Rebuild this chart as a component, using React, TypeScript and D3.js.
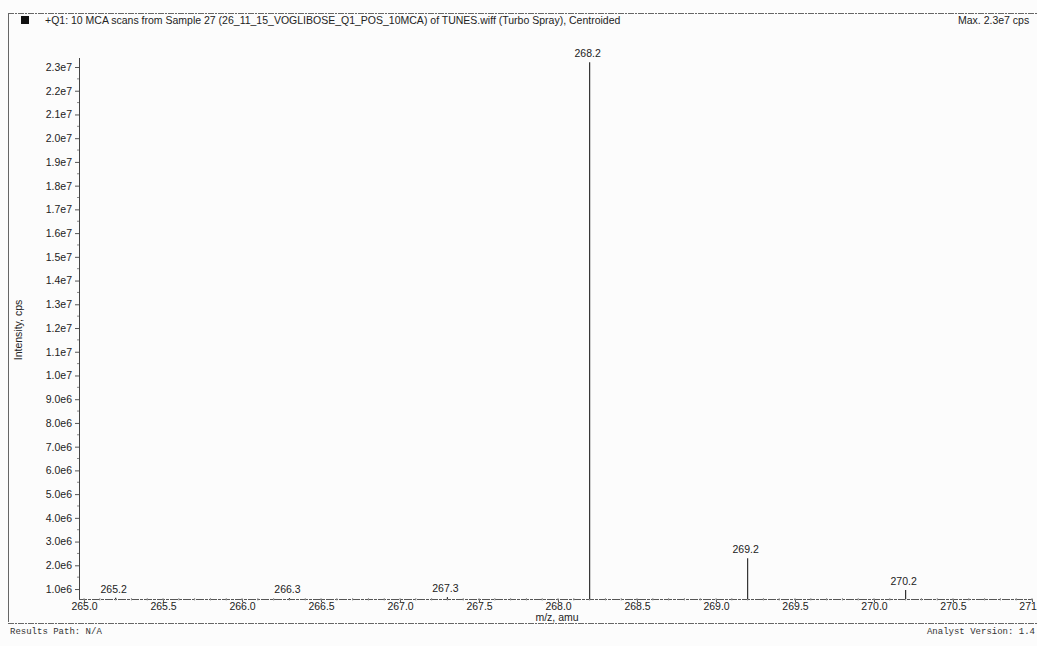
import React, {useRef, useEffect} from "react";
import * as d3 from "d3";

const peakMz = [265.2, 266.3, 267.3, 268.2, 269.2, 270.2];
const peakIntensity = [0.63e6, 0.62e6, 0.66e6, 2.32e7, 2.3e6, 0.96e6];
const peakLabels = ["265.2", "266.3", "267.3", "268.2", "269.2", "270.2"];

const yTicks = [
  1e6, 2e6, 3e6, 4e6, 5e6, 6e6, 7e6, 8e6, 9e6, 1e7, 1.1e7, 1.2e7, 1.3e7,
  1.4e7, 1.5e7, 1.6e7, 1.7e7, 1.8e7, 1.9e7, 2.0e7, 2.1e7, 2.2e7, 2.3e7,
];
const xTicks = [265.0, 265.5, 266.0, 266.5, 267.0, 267.5, 268.0, 268.5, 269.0, 269.5, 270.0, 270.5, 271.0];

const title =
  "+Q1: 10 MCA scans from Sample 27 (26_11_15_VOGLIBOSE_Q1_POS_10MCA) of TUNES.wiff (Turbo Spray), Centroided";

const font = "Liberation Sans, Arial, sans-serif";
const mono = "Liberation Mono, Courier New, monospace";

export default function App() {
  const svgRef = useRef<SVGSVGElement>(null);

  useEffect(() => {
    const svg = d3.select(svgRef.current);
    svg.selectAll("*").remove();

    const left = 79;
    const right = 1032;
    const bottom = 599;
    const top = 58;

    const x = d3.scaleLinear().domain([264.968, 271.0]).range([left, right]);
    const y = d3.scaleLinear().domain([0.58e6, 2.3e7]).range([bottom, 67]);

    // frame
    svg.append("line").attr("x1", 8).attr("x2", 1037).attr("y1", 13.5).attr("y2", 13.5)
      .attr("stroke", "#666").attr("stroke-dasharray", "6,1,2,1");
    svg.append("line").attr("x1", 8.5).attr("x2", 8.5).attr("y1", 13).attr("y2", 622)
      .attr("stroke", "#666");
    svg.append("line").attr("x1", 8).attr("x2", 1037).attr("y1", 623.5).attr("y2", 623.5)
      .attr("stroke", "#666").attr("stroke-dasharray", "6,1,2,1");

    svg.append("rect").attr("x", 21).attr("y", 16).attr("width", 8).attr("height", 8).attr("fill", "#111");
    svg.append("text").attr("x", 45).attr("y", 24).attr("font-size", 10.5).attr("fill", "#222")
      .style("font-family", font).text(title);
    svg.append("text").attr("x", 958).attr("y", 24).attr("font-size", 10.5).attr("fill", "#222")
      .style("font-family", font).text("Max. 2.3e7 cps");

    // y axis
    const ya = svg.append("g").attr("transform", `translate(${left},0)`)
      .call(d3.axisLeft(y).tickValues(yTicks).tickSize(4).tickFormat((d) => {
        const v = +d;
        return v >= 1e7 ? (v / 1e7).toFixed(1) + "e7" : (v / 1e6).toFixed(1) + "e6";
      }));
    ya.select(".domain").remove();
    ya.selectAll("line").attr("stroke", "#555");
    ya.selectAll("text").style("font-family", font).style("font-size", "10.5px").attr("fill", "#222");
    svg.append("line").attr("x1", left + 0.5).attr("x2", left + 0.5).attr("y1", top).attr("y2", bottom)
      .attr("stroke", "#444");
    // y minor ticks
    svg.selectAll(".ym").data(yTicks.map((t) => t + 0.5e6).filter((t) => t < 2.3e7)).join("line")
      .attr("x1", left - 2).attr("x2", left).attr("y1", (d) => y(d)).attr("y2", (d) => y(d))
      .attr("stroke", "#888");

    // x axis
    const xa = svg.append("g").attr("transform", `translate(0,${bottom})`)
      .call(d3.axisBottom(x).tickValues(xTicks).tickSize(3).tickPadding(1).tickFormat(d3.format(".1f")));
    xa.select(".domain").remove();
    xa.selectAll("line").attr("stroke", "#555");
    xa.selectAll("text").style("font-family", font).style("font-size", "10.5px").attr("fill", "#222");
    svg.append("line").attr("x1", left).attr("x2", right).attr("y1", bottom + 0.5).attr("y2", bottom + 0.5)
      .attr("stroke", "#555").attr("stroke-dasharray", "8,1,3,1");
    svg.selectAll(".xm").data(d3.range(0, 61).map((i) => 265 + i * 0.1)).join("line")
      .attr("x1", (d) => x(d)).attr("x2", (d) => x(d)).attr("y1", bottom - 1).attr("y2", bottom + 1.5)
      .attr("stroke", "#999");

    // axis labels
    svg.append("text").attr("x", 557).attr("y", 621).attr("text-anchor", "middle")
      .attr("font-size", 10.5).attr("fill", "#222").style("font-family", font).text("m/z, amu");
    svg.append("text").attr("transform", "rotate(-90)").attr("x", -330).attr("y", 22)
      .attr("text-anchor", "middle").attr("font-size", 10.5).attr("fill", "#222")
      .style("font-family", font).text("Intensity, cps");

    // peaks
    const peaks = peakMz.map((m, i) => ({m, v: peakIntensity[i], label: peakLabels[i]}));
    svg.selectAll(".peak").data(peaks).join("line")
      .attr("x1", (d) => x(d.m)).attr("x2", (d) => x(d.m))
      .attr("y1", bottom).attr("y2", (d) => y(d.v))
      .attr("stroke", "#333").attr("stroke-width", 1.2);
    svg.selectAll(".plabel").data(peaks).join("text")
      .attr("x", (d) => x(d.m) - 2).attr("y", (d) => y(d.v) - 5)
      .attr("text-anchor", "middle").attr("font-size", 10.5).attr("fill", "#222")
      .style("font-family", font).text((d) => d.label);

    // footer
    svg.append("text").attr("x", 10).attr("y", 634).attr("font-size", 9).attr("fill", "#333")
      .style("font-family", mono).text("Results Path: N/A");
    svg.append("text").attr("x", 1035).attr("y", 634).attr("text-anchor", "end").attr("font-size", 9)
      .attr("fill", "#333").style("font-family", mono).text("Analyst Version: 1.4");
  }, []);

  return (
    <svg ref={svgRef} width={1037} height={646}
      style={{position: "absolute", left: 0, top: 0, background: "#fcfcfc"}} />
  );
}
